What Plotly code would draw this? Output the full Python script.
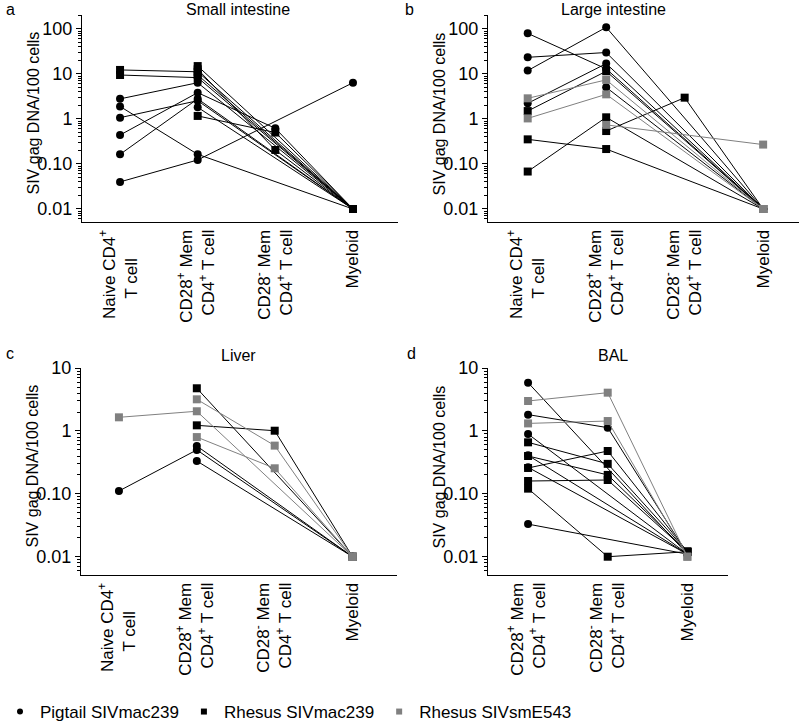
import plotly.graph_objects as go

# ---------------- data ----------------
NB = "\u00a0"
CATS4 = ["Naive CD4<sup>+</sup><br>T cell" + NB * 6,
         "CD28<sup>+</sup> Mem<br>CD4<sup>+</sup> T cell",
         "CD28<sup>-</sup> Mem<br>CD4<sup>+</sup> T cell",
         "Myeloid"]
CATS3 = CATS4[1:]

Y_TICKVALS = [0.01, 0.1, 1, 10, 100]
Y_TICKTEXT = ["0.01", "0.10", "1", "10", "100"]

GROUPS = ["Pigtail SIVmac239", "Rhesus SIVmac239", "Rhesus SIVsmE543"]

# Small intestine: [naive, CD28+ mem, CD28- mem, myeloid]
si_pigtail = [[2.8, 6.4, None, 0.01],
              [1.9, 0.164, None, 0.01],
              [1.07, 2.55, None, 0.01],
              [0.44, 3.85, 0.62, 0.01],
              [0.164, 2.8, None, 0.01],
              [0.04, 0.123, None, 6.4],
              [None, 1.82, None, 0.01]]
si_rhesus_mac = [[12.3, 11.2, None, 0.01],
                 [9.5, 8.3, None, 0.01],
                 [None, 15.0, None, 0.01],
                 [None, 12.7, 0.205, 0.01],
                 [None, 9.5, None, 0.01],
                 [None, 1.17, 0.50, 0.01]]
si_rhesus_sme = []

# Large intestine
li_pigtail = [[80, 13, None, 0.01],
              [23.5, 30, None, 0.01],
              [11.9, 109, None, 0.01],
              [2.23, 17, None, 0.01],
              [None, 5.06, None, 0.01]]
li_rhesus_mac = [[1.5, 11.5, None, 0.01],
                 [0.353, 0.215, None, 0.01],
                 [0.068, 1.09, None, 0.01],
                 [None, 0.54, 2.98, 0.01]]
li_rhesus_sme = [[2.88, 7.4, None, 0.01],
                 [1.03, 3.53, None, 0.01],
                 [None, 0.74, None, 0.27]]

# Liver
lv_pigtail = [[0.111, 0.50, None, 0.01],
              [None, 0.577, None, 0.01],
              [None, 0.333, None, 0.01]]
lv_rhesus_mac = [[None, 4.78, None, 0.01],
                 [None, 1.23, 1.01, 0.01]]
lv_rhesus_sme = [[1.65, 2.06, None, 0.01],
                 [None, 3.19, 0.585, 0.01],
                 [None, 0.80, 0.255, 0.01]]

# BAL: [CD28+ mem, CD28- mem, myeloid]
bal_pigtail = [[5.87, None, 0.011],
               [1.82, 1.13, 0.011],
               [0.895, None, 0.011],
               [0.41, None, 0.011],
               [0.264, None, 0.011],
               [0.033, None, 0.011]]
bal_rhesus_mac = [[0.66, 0.30, 0.012],
                  [0.40, 0.20, 0.012],
                  [0.258, 0.48, 0.012],
                  [0.16, 0.166, 0.012],
                  [0.121, 0.01, 0.012]]
bal_rhesus_sme = [[3.0, 4.07, 0.01],
                  [1.32, 1.44, 0.01]]

# ---------------- styling / layout ----------------
W, H = 800, 722


def fx(px):
    return px / W


def fy(py):
    return 1 - py / H


BLACK = "#000000"
GREY = "#808080"
STYLE = {
    GROUPS[0]: dict(symbol="circle", color=BLACK),
    GROUPS[1]: dict(symbol="square", color=BLACK),
    GROUPS[2]: dict(symbol="square", color=GREY),
}
FONT = "Liberation Sans, Arial, Helvetica, sans-serif"

panels = [
    dict(title="Small intestine", letter="a", cats=CATS4,
         data=[si_pigtail, si_rhesus_mac, si_rhesus_sme],
         xpx=(82, 398), ypx=(15, 222),
         xr=[-0.49, 3.58], yr=[-2.289, 2.311], title_xy=(238, 10), letter_xy=(4, 10)),
    dict(title="Large intestine", letter="b", cats=CATS4,
         data=[li_pigtail, li_rhesus_mac, li_rhesus_sme],
         xpx=(488, 799), ypx=(15, 222),
         xr=[-0.506, 3.457], yr=[-2.289, 2.311], title_xy=(613, 10), letter_xy=(403, 10)),
    dict(title="Liver", letter="c", cats=CATS4,
         data=[lv_pigtail, lv_rhesus_mac, lv_rhesus_sme],
         xpx=(81, 397), ypx=(368, 575),
         xr=[-0.487, 3.57], yr=[-2.291, 1.002], title_xy=(238, 355), letter_xy=(4, 353)),
    dict(title="BAL", letter="d", cats=CATS3,
         data=[bal_pigtail, bal_rhesus_mac, bal_rhesus_sme],
         xpx=(488, 728), ypx=(368, 575),
         xr=[-0.503, 2.51], yr=[-2.291, 1.002], title_xy=(613, 355), letter_xy=(405, 353)),
]

minor_vals = [m * 10 ** e for e in range(-3, 3) for m in range(2, 10)]

fig = go.Figure()
annotations = []
layout = {}

for i, p in enumerate(panels):
    n = i + 1
    xa = "x" if n == 1 else f"x{n}"
    ya = "y" if n == 1 else f"y{n}"
    xkey = "xaxis" if n == 1 else f"xaxis{n}"
    ykey = "yaxis" if n == 1 else f"yaxis{n}"
    xs = list(range(len(p["cats"])))
    for g, series in zip(GROUPS, p["data"]):
        st = STYLE[g]
        for vals in series:
            fig.add_trace(go.Scatter(
                x=xs, y=vals, xaxis=xa, yaxis=ya, mode="lines+markers",
                connectgaps=True, showlegend=False, hoverinfo="skip",
                line=dict(color=st["color"], width=1),
                marker=dict(symbol=st["symbol"], color=st["color"], size=8,
                            line=dict(width=0)),
            ))
    x0, x1 = p["xpx"]
    y0, y1 = p["ypx"]
    layout[xkey] = dict(
        domain=[fx(x0), fx(x1)], anchor=ya, range=p["xr"], tickmode="array",
        tickvals=xs, ticktext=p["cats"], tickangle=-90, ticks="", ticklen=0,
        showline=True, linecolor="black", linewidth=1, showgrid=False,
        zeroline=False, automargin=False,
        tickfont=dict(size=17, color="black", family=FONT))
    layout[ykey] = dict(
        domain=[fy(y1), fy(y0)], anchor=xa, type="log", range=p["yr"],
        tickmode="array", tickvals=Y_TICKVALS, ticktext=Y_TICKTEXT,
        ticks="outside", ticklen=5, tickwidth=1, tickcolor="black",
        minor=dict(tickmode="array", tickvals=minor_vals, ticks="outside",
                   ticklen=3, tickwidth=1, tickcolor="black", showgrid=False),
        showline=True, linecolor="black", linewidth=1, showgrid=False,
        zeroline=False, automargin=False,
        tickfont=dict(size=18, color="black", family=FONT))
    tx, ty = p["title_xy"]
    annotations.append(dict(text=p["title"], x=fx(tx), y=fy(ty),
                            xref="paper", yref="paper", showarrow=False,
                            xanchor="center", yanchor="middle",
                            font=dict(size=16, color="black", family=FONT)))
    lx, ly = p["letter_xy"]
    annotations.append(dict(text=p["letter"], x=fx(lx), y=fy(ly),
                            xref="paper", yref="paper", showarrow=False,
                            xanchor="left", yanchor="middle",
                            font=dict(size=16, color="black", family=FONT)))
    annotations.append(dict(text="SIV gag DNA/100 cells",
                            x=fx(x0 - 49), y=fy((y0 + y1) / 2 - 5),
                            xref="paper", yref="paper", showarrow=False,
                            textangle=-90, xanchor="center", yanchor="middle",
                            font=dict(size=16, color="black", family=FONT)))

# legend entries
for g in GROUPS:
    st = STYLE[g]
    fig.add_trace(go.Scatter(
        x=[None], y=[None], mode="markers", name=g, showlegend=True,
        marker=dict(symbol=st["symbol"], color=st["color"], size=6)))

fig.update_layout(
    **layout,
    width=W, height=H,
    margin=dict(l=0, r=0, t=0, b=0, autoexpand=False),
    paper_bgcolor="white", plot_bgcolor="white",
    font=dict(family=FONT, color="black"),
    annotations=annotations,
    showlegend=True,
    legend=dict(orientation="h", x=0, y=fy(712), xanchor="left", yanchor="middle",
                font=dict(size=17, color="black", family=FONT),
                itemwidth=30, tracegroupgap=0, bgcolor="rgba(0,0,0,0)"),
)

fig.write_html("out.html",
               config={"displayModeBar": False},
               post_script="document.body.style.margin='0px';")
